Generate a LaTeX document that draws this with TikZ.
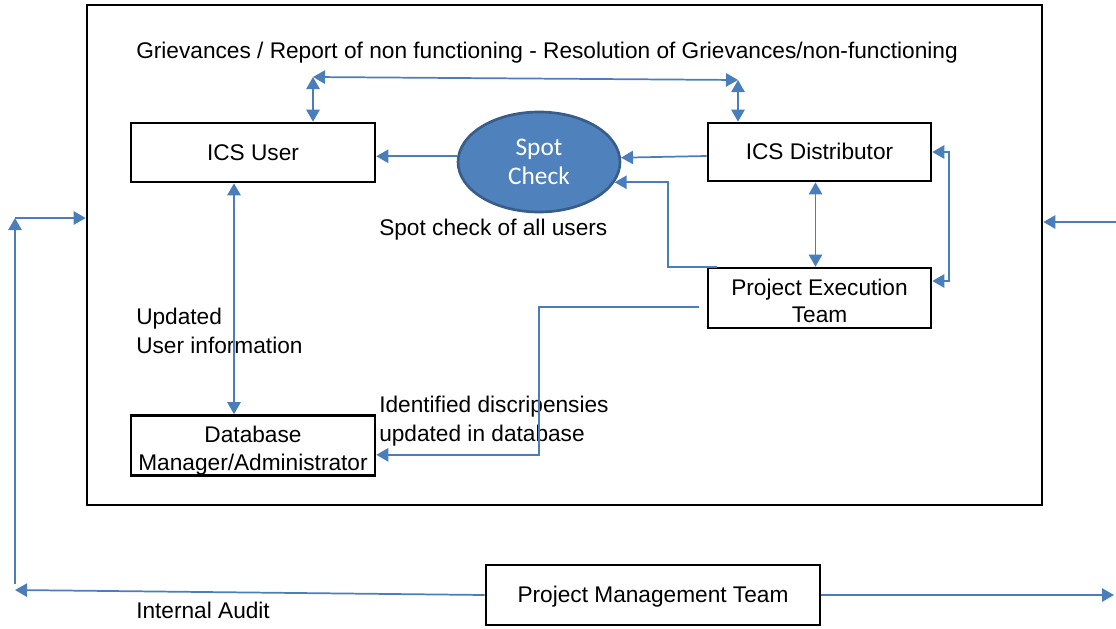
\documentclass[tikz,border=0pt]{standalone}
\usepackage{fontspec}
\setmainfont{Liberation Sans}
\newfontfamily\spotfont{Carlito}
\usetikzlibrary{arrows.meta,shapes.geometric}
\definecolor{linkblue}{HTML}{4A7EBB}
\definecolor{spotfill}{HTML}{4F81BD}
\definecolor{spotedge}{HTML}{385D8A}
\newcommand{\boxstrut}{\rule[-3.6pt]{0pt}{19pt}}
\newcommand{\topstrut}{\rule[-3.6pt]{0pt}{23.5pt}}
\tikzset{every node/.style={font=\fontsize{17}{21.75}\selectfont},
    box/.style={draw, line width=2pt, align=center, inner sep=0pt,
        font=\fontsize{17}{20.5}\selectfont},
    spot/.style={ellipse, fill=spotfill, draw=spotedge, line width=2pt,
        minimum width=121.5pt, minimum height=75pt, inner sep=0pt,
        text=white, align=center, font=\spotfont\fontsize{19}{22}\selectfont},
    lbl/.style={anchor=west, align=left, inner sep=0pt},
    link/.style={draw=linkblue, line width=1.3pt, >={Triangle[length=9pt,width=10pt]}},
    }

\begin{document}
\begin{tikzpicture}[x=0.75pt, y=-0.75pt]
	\useasboundingbox (0,0) rectangle (1116,628);
	\node[box, minimum width=716.25pt, minimum height=375pt] (frame) at (564.5,255) {};
	\node[box, minimum width=183pt, minimum height=44.25pt] (icsUser) at (253,152.5) {\boxstrut ICS User};
	\node[box, minimum width=167.25pt, minimum height=43.5pt] (icsDist) at (819.5,152) {\boxstrut ICS Distributor};
	\node[box, minimum width=167.25pt, minimum height=45pt] (projExec) at (819.5,298) {\topstrut Project Execution\\\boxstrut Team};
	\node[box, minimum width=183pt, minimum height=45pt] (dbAdmin) at (253,445.5) {\topstrut Database\\\boxstrut Manager/Administrator};
	\node[box, minimum width=250.5pt, minimum height=45pt] (projMgmt) at (653,595) {\boxstrut Project Management Team};
	\node[spot] (spotCheck) at (539,162) {Spot\\Check};
	% labels
	\node[lbl] (grievTxt) at (136,53) {Grievances / Report of non functioning - Resolution of Grievances/non-functioning};
	\node[lbl] (spotTxt) at (379,230) {Spot check of all users};
	\node[lbl] (updTxt) at (136,330.5) {Updated\\User information};
	\node[lbl] (discTxt) at (379,421.5) {Identified discripensies\\updated in database};
	\node[lbl] (auditTxt) at (136,610) {Internal Audit};
	% bend points
	\coordinate (topL) at (313,77);
	\coordinate (topR) at (738,80);
	\coordinate (peBend) at (668,230);
	\coordinate (dbBend) at (539,380);
	\coordinate (auditL) at (15,590);
	\coordinate (auditT) at (15,218);
	\coordinate (rightIn) at (1116,222);
	\coordinate (rightOut) at (1114,597);
	\draw[link, <->] (topL) -- (topR);
	\draw[link, <->] (topL) -- (icsUser.north -| topL);
	\draw[link, <->] (topR) -- (icsDist.north -| topR);
	\draw[link, ->] (spotCheck.176) -- (spotCheck.176 -| icsUser.east);
	\draw[link, ->] ([yshift=-3pt]icsDist.west) -- (spotCheck.3);
	\draw[link, ->] ([xshift=7.5pt]projExec.north west) -| (peBend |- spotCheck.-15) -- (spotCheck.-15);
	\draw[link, <->] ([xshift=-3pt]icsDist.south) -- ([xshift=-3pt]projExec.north);
	\draw[link, <->] (icsDist.east) -- ++(17,0) |- ([yshift=12.75pt]projExec.east);
	\draw[link, <->] ([xshift=-14.25pt]icsUser.south) -- ([xshift=-14.25pt]dbAdmin.north);
	\draw[link, ->] ([xshift=-6pt,yshift=-6.75pt]projExec.west) -| (dbBend) |- ([yshift=-7pt]dbAdmin.east);
	\draw[link, ->] (projMgmt.west) -- (auditL);
	\draw[link, ->] ([yshift=4.5pt]auditL) -- (auditT);
	\draw[link, ->] (auditT) -- (auditT -| frame.west);
	\draw[link, ->] (rightIn) -- (rightIn -| frame.east);
	\draw[link, ->] (projMgmt.east) -- (projMgmt.east -| rightOut);
\end{tikzpicture}
\end{document}
